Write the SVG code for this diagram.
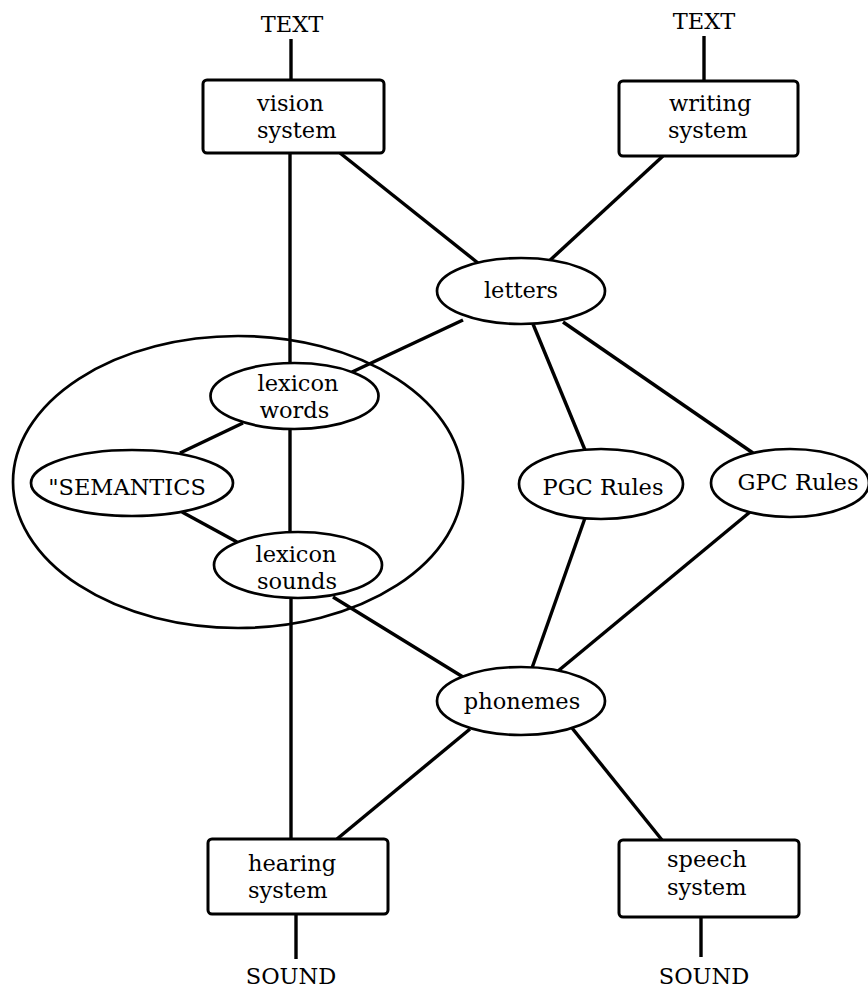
<svg xmlns="http://www.w3.org/2000/svg" width="868" height="990" viewBox="0 0 868 990">
<style>
text{font-family:"DejaVu Serif","Liberation Serif",serif;font-size:22.5px;fill:#000}
.m{text-anchor:middle}
.box{fill:#fff;stroke:#000;stroke-width:3}
.ell{fill:#fff;stroke:#000;stroke-width:2.7}
.con line{stroke:#000;stroke-width:3.4;stroke-linecap:butt}
</style>
<rect width="868" height="990" fill="#fff"/>
<g id="lexicon-group">
<ellipse cx="238" cy="482" rx="225" ry="146" fill="none" stroke="#000" stroke-width="2.7"/>
</g>
<g id="connectors" class="con">
<line x1="291" y1="39" x2="291" y2="80"/>
<line x1="704" y1="36" x2="704" y2="81"/>
<line x1="290" y1="153" x2="290" y2="364"/>
<line x1="340" y1="153" x2="478" y2="263"/>
<line x1="663" y1="156" x2="547" y2="263"/>
<line x1="463" y1="320" x2="352" y2="372"/>
<line x1="533" y1="324" x2="585" y2="450"/>
<line x1="563" y1="322" x2="753" y2="453"/>
<line x1="243" y1="423" x2="180" y2="453"/>
<line x1="182" y1="512" x2="237" y2="542"/>
<line x1="290" y1="428" x2="290" y2="533"/>
<line x1="291" y1="597" x2="291" y2="839"/>
<line x1="333" y1="597" x2="463" y2="677"/>
<line x1="585" y1="518" x2="532" y2="668"/>
<line x1="750" y1="512" x2="558" y2="671"/>
<line x1="470" y1="729" x2="337" y2="839"/>
<line x1="572" y1="728" x2="662" y2="840"/>
<line x1="296" y1="914" x2="296" y2="959"/>
<line x1="701" y1="916" x2="701" y2="957"/>
</g>
<g id="text-top-left"><text class="m" x="292" y="32">TEXT</text></g>
<g id="text-top-right"><text class="m" x="704" y="29">TEXT</text></g>
<g id="vision-system">
<rect class="box" x="203" y="80" width="181" height="73" rx="4"/>
<text x="257" y="111">vision</text>
<text x="257" y="138">system</text>
</g>
<g id="writing-system">
<rect class="box" x="619" y="81" width="179" height="75" rx="4"/>
<text x="669" y="111">writing</text>
<text x="668" y="138">system</text>
</g>
<g id="letters">
<ellipse class="ell" cx="521" cy="291" rx="84" ry="33"/>
<text class="m" x="521" y="298">letters</text>
</g>
<g id="lexicon-words">
<ellipse class="ell" cx="294.5" cy="396" rx="84" ry="33"/>
<text class="m" x="298" y="391">lexicon</text>
<text class="m" x="294.5" y="418">words</text>
</g>
<g id="semantics">
<ellipse class="ell" cx="132" cy="483" rx="101" ry="33"/>
<text class="m" x="127" y="495">"SEMANTICS</text>
</g>
<g id="lexicon-sounds">
<ellipse class="ell" cx="298" cy="565" rx="84" ry="33"/>
<text class="m" x="296" y="562">lexicon</text>
<text class="m" x="297" y="589">sounds</text>
</g>
<g id="pgc-rules">
<ellipse class="ell" cx="601" cy="484" rx="82" ry="35"/>
<text class="m" x="603" y="495">PGC Rules</text>
</g>
<g id="gpc-rules">
<ellipse class="ell" cx="790" cy="483" rx="79" ry="34"/>
<text class="m" x="798" y="490">GPC Rules</text>
</g>
<g id="phonemes">
<ellipse class="ell" cx="521" cy="701" rx="84" ry="34"/>
<text class="m" x="522" y="709">phonemes</text>
</g>
<g id="hearing-system">
<rect class="box" x="208" y="839" width="180" height="75" rx="4"/>
<text x="248" y="871">hearing</text>
<text x="248" y="898">system</text>
</g>
<g id="speech-system">
<rect class="box" x="619" y="840" width="180" height="77" rx="4"/>
<text x="667" y="867">speech</text>
<text x="667" y="895">system</text>
</g>
<g id="sound-left"><text class="m" x="291" y="984">SOUND</text></g>
<g id="sound-right"><text class="m" x="704" y="984">SOUND</text></g>
</svg>
